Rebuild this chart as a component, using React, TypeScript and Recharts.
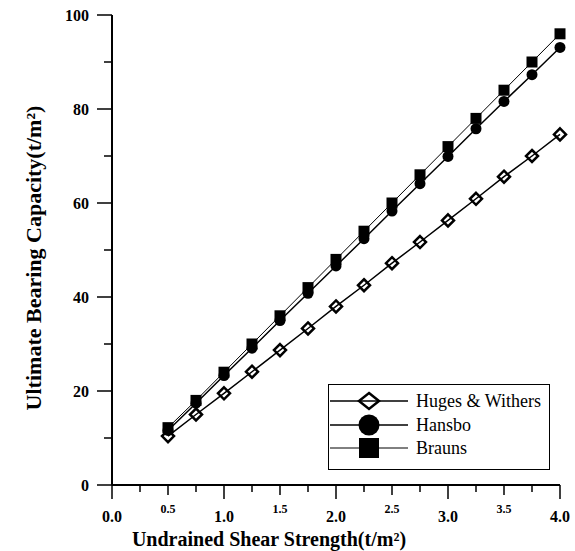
import React from 'react';
import { LineChart, Line, XAxis, YAxis, Legend, Label } from 'recharts';

const xValues = [0.5, 0.75, 1.0, 1.25, 1.5, 1.75, 2.0, 2.25, 2.5, 2.75, 3.0, 3.25, 3.5, 3.75, 4.0];
const hugesWithers = [10.4, 15.0, 19.5, 24.1, 28.7, 33.3, 38.0, 42.5, 47.2, 51.7, 56.3, 60.9, 65.6, 70.0, 74.6];
const hansbo = [11.6, 17.4, 23.3, 29.1, 35.0, 40.8, 46.6, 52.4, 58.3, 64.1, 69.9, 75.8, 81.6, 87.3, 93.1];
const brauns = [12.2, 18.0, 24.0, 30.0, 36.0, 42.0, 48.0, 54.0, 60.0, 66.0, 72.0, 78.0, 84.0, 90.0, 96.0];

const xTicks = [0, 0.25, 0.5, 0.75, 1, 1.25, 1.5, 1.75, 2, 2.25, 2.5, 2.75, 3, 3.25, 3.5, 3.75, 4];
const yTicks = [0, 10, 20, 30, 40, 50, 60, 70, 80, 90, 100];
const seriesNames = ['Huges & Withers', 'Hansbo', 'Brauns'];
const xTitle = 'Undrained Shear Strength(t/m\u00B2)';
const yTitle = 'Ultimate Bearing Capacity(t/m\u00B2)';

const data = xValues.map((x, i) => ({ x, huges: hugesWithers[i], hansbo: hansbo[i], brauns: brauns[i] }));

const FONT = "'Liberation Serif', 'Times New Roman', 'DejaVu Serif', serif";
const boldStyle = { fontFamily: FONT, fontWeight: 'bold' as const };

const XTick = (props: any) => {
  const { x, y, payload } = props;
  const v = payload.value as number;
  const isInt = Math.abs(v - Math.round(v)) < 1e-6;
  const isHalf = !isInt && Math.abs(v * 2 - Math.round(v * 2)) < 1e-6;
  const len = isInt ? 14 : isHalf ? 10 : 7;
  return (
    <g>
      <line x1={x} x2={x} y1={y} y2={y + len} stroke="#000" strokeWidth={1.5} />
      {isInt && (
        <text x={x} y={y + 37} textAnchor="middle" style={{ ...boldStyle, fontSize: 16 }} fill="#000">
          {v.toFixed(1)}
        </text>
      )}
      {isHalf && (
        <text x={x} y={y + 28} textAnchor="middle" style={{ ...boldStyle, fontSize: 12 }} fill="#000">
          {v.toFixed(1)}
        </text>
      )}
    </g>
  );
};

const YTick = (props: any) => {
  const { x, y, payload } = props;
  const v = payload.value as number;
  const isMajor = v % 20 === 0;
  const len = isMajor ? 15 : 8;
  return (
    <g>
      <line x1={x - len} x2={x} y1={y} y2={y} stroke="#000" strokeWidth={1.5} />
      {isMajor && (
        <text x={x - 23} y={y} dy="0.35em" textAnchor="end" style={{ ...boldStyle, fontSize: 16 }} fill="#000">
          {v}
        </text>
      )}
    </g>
  );
};

const diamondPath = (cx: number, cy: number, w: number, h: number) =>
  `M${cx},${cy - h} L${cx + w},${cy} L${cx},${cy + h} L${cx - w},${cy} Z`;

const DiamondDot = (props: any) => {
  const { cx, cy } = props;
  return <path d={diamondPath(cx, cy, 6, 6)} fill="none" stroke="#000" strokeWidth={2.5} />;
};
const CircleDot = (props: any) => {
  const { cx, cy } = props;
  return <circle cx={cx} cy={cy} r={5.5} fill="#000" />;
};
const SquareDot = (props: any) => {
  const { cx, cy } = props;
  return <rect x={cx - 5.5} y={cy - 5.5} width={11} height={11} fill="#000" />;
};

const LegendContent = () => {
  const rows = [17, 41, 64];
  return (
    <svg width={222} height={86} style={{ display: 'block' }}>
      <rect x={0.5} y={0.5} width={221} height={85} fill="#fff" stroke="#000" strokeWidth={1} />
      {seriesNames.map((name, i) => {
        const cy = rows[i];
        return (
          <g key={name}>
            <line x1={2} x2={80} y1={cy} y2={cy} stroke="#000" strokeWidth={i === 2 ? 1 : 1.5} />
            {i === 0 && <path d={diamondPath(41, cy, 10, 8)} fill="none" stroke="#000" strokeWidth={2.5} />}
            {i === 1 && <circle cx={41} cy={cy} r={10.5} fill="#000" />}
            {i === 2 && <rect x={31} y={cy - 10} width={20} height={20} fill="#000" />}
            <text x={88} y={cy} dy="0.35em" style={{ fontFamily: FONT, fontSize: 18 }} fill="#000">
              {name}
            </text>
          </g>
        );
      })}
    </svg>
  );
};

const XTitle = () => (
  <text x={269} y={546} textAnchor="middle" style={{ ...boldStyle, fontSize: 20 }} fill="#000">
    {xTitle}
  </text>
);
const YTitle = () => (
  <text
    x={33}
    y={258}
    dy="0.35em"
    textAnchor="middle"
    transform="rotate(-90, 33, 258)"
    style={{ ...boldStyle, fontSize: 22 }}
    fill="#000"
  >
    {yTitle}
  </text>
);

export default function App() {
  return (
    <div style={{ position: 'absolute', left: 0, top: 0, background: '#fff' }}>
      <LineChart width={575} height={551} data={data} margin={{ top: 15, right: 15, bottom: 0, left: 0 }}>
        <XAxis
          dataKey="x"
          type="number"
          domain={[0, 4]}
          ticks={xTicks}
          interval={0}
          height={66}
          tickSize={0}
          tickMargin={0}
          tickLine={false}
          tick={<XTick />}
          axisLine={{ stroke: '#000', strokeWidth: 2 }}
        >
          <Label content={<XTitle />} />
        </XAxis>
        <YAxis
          type="number"
          domain={[0, 100]}
          ticks={yTicks}
          interval={0}
          width={112}
          tickSize={0}
          tickMargin={0}
          tickLine={false}
          tick={<YTick />}
          axisLine={{ stroke: '#000', strokeWidth: 2 }}
        >
          <Label content={<YTitle />} />
        </YAxis>
        <Legend
          layout="vertical"
          align="center"
          verticalAlign="middle"
          content={<LegendContent />}
          wrapperStyle={{ position: 'absolute', left: 328, top: 384, width: 222, height: 86 }}
        />
        <Line
          type="linear"
          dataKey="brauns"
          name="Brauns"
          stroke="#000"
          strokeWidth={1}
          dot={<SquareDot />}
          isAnimationActive={false}
        />
        <Line
          type="linear"
          dataKey="hansbo"
          name="Hansbo"
          stroke="#000"
          strokeWidth={1.5}
          dot={<CircleDot />}
          isAnimationActive={false}
        />
        <Line
          type="linear"
          dataKey="huges"
          name="Huges & Withers"
          stroke="#000"
          strokeWidth={1.5}
          dot={<DiamondDot />}
          isAnimationActive={false}
        />
      </LineChart>
    </div>
  );
}
